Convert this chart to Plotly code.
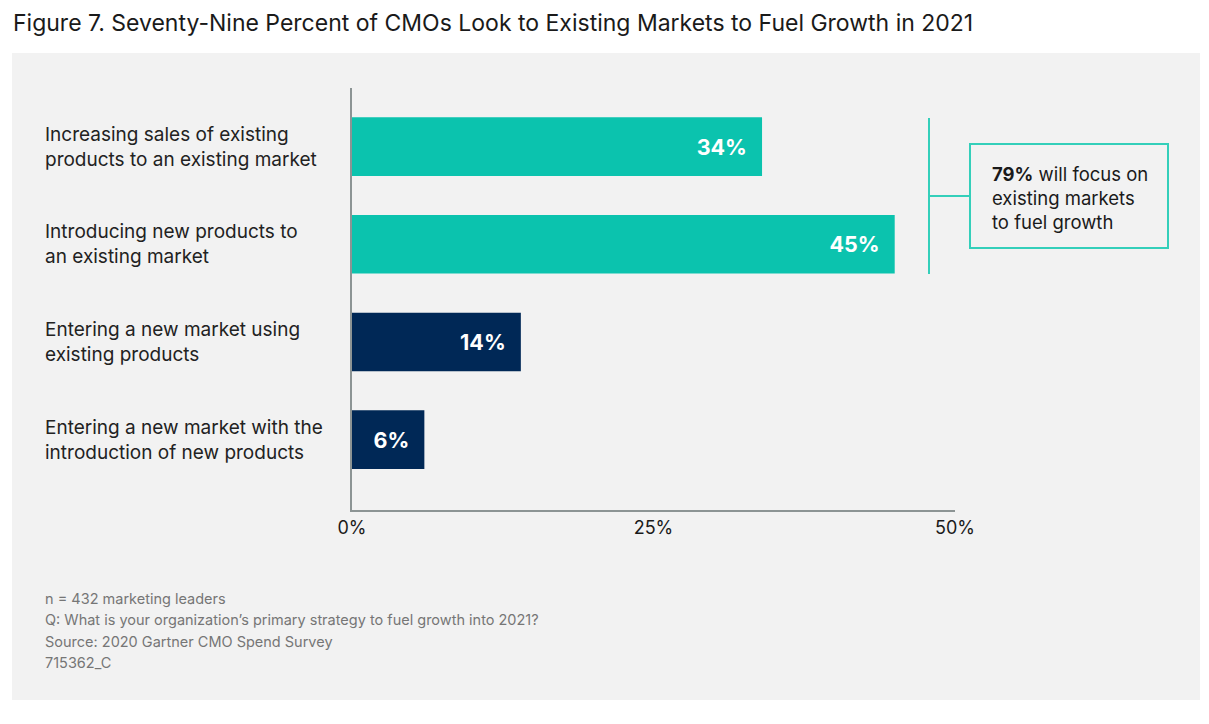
import plotly.graph_objects as go

# data
categories = [
    "Increasing sales of existing<br>products to an existing market",
    "Introducing new products to<br>an existing market",
    "Entering a new market using<br>existing products",
    "Entering a new market with the<br>introduction of new products",
]
shares = [34, 45, 14, 6]
bar_colors = ["#0BC3AE", "#0BC3AE", "#002856", "#002856"]
x_ticks = [0, 25, 50]
x_tick_labels = ["0%", "25%", "50%"]

title_text = "Figure 7. Seventy-Nine Percent of CMOs Look to Existing Markets to Fuel Growth in 2021"
callout_text = "<b>79%</b> will focus on<br>existing markets<br>to fuel growth"
notes = [
    "n = 432 marketing leaders",
    "Q: What is your organization\u2019s primary strategy to fuel growth into 2021?",
    "Source: 2020 Gartner CMO Spend Survey",
    "715362_C",
]

# page body has an 8px margin, so the figure is shrunk and shifted by it
OFF = 8
W, H = 1209 - OFF, 724 - OFF
ML, MR, MT, MB = 352 - OFF, 254, 88 - OFF, 214
FONT = "Inter, Roboto, sans-serif"
TEAL = "#34CFBA"


def px_x(px):
    return (px - OFF - ML) / (W - ML - MR)


def px_y(py):
    return 1 - (py - OFF - MT) / (H - MT - MB)


fig = go.Figure()
fig.add_trace(go.Bar(
    x=shares,
    y=categories,
    orientation="h",
    marker=dict(color=bar_colors, line=dict(width=0)),
    texttemplate="<b>%{x}%</b>\u00a0\u00a0",
    textposition="inside",
    insidetextanchor="end",
    textfont=dict(color="white", size=21.5, family=FONT),
    width=0.6,
    hoverinfo="skip",
))

shapes = [
    # grey panel
    dict(type="rect", xref="paper", yref="paper", x0=px_x(12), x1=px_x(1200),
         y0=px_y(700), y1=px_y(53), fillcolor="#F2F2F2", line=dict(width=0), layer="below"),
    # callout bracket
    dict(type="line", xref="paper", yref="paper", x0=px_x(929), x1=px_x(929),
         y0=px_y(274), y1=px_y(118), line=dict(color=TEAL, width=2)),
    dict(type="line", xref="paper", yref="paper", x0=px_x(929), x1=px_x(970),
         y0=px_y(196), y1=px_y(196), line=dict(color=TEAL, width=2)),
    dict(type="rect", xref="paper", yref="paper", x0=px_x(970), x1=px_x(1168),
         y0=px_y(248), y1=px_y(144), line=dict(color=TEAL, width=2), fillcolor="rgba(0,0,0,0)"),
]

annotations = [
    dict(text=title_text, xref="paper", yref="paper", x=px_x(11), y=px_y(23),
         xanchor="left", yanchor="middle", showarrow=False,
         font=dict(size=23, color="#1a1a1a", family=FONT)),
    dict(text=callout_text, xref="paper", yref="paper", x=px_x(990), y=px_y(198),
         xanchor="left", yanchor="middle", align="left", showarrow=False,
         font=dict(size=18.5, color="#1a1a1a", family=FONT)),
]
for cat in categories:
    annotations.append(dict(
        text=cat, xref="paper", yref="y", x=px_x(43), y=cat,
        xanchor="left", yanchor="middle", align="left", showarrow=False,
        font=dict(size=19, color="#222222", family=FONT),
    ))
for i, line in enumerate(notes):
    annotations.append(dict(
        text=line, xref="paper", yref="paper", x=px_x(43), y=px_y(599 + 21 * i),
        xanchor="left", yanchor="middle", showarrow=False,
        font=dict(size=14.5, color="#767676", family=FONT),
    ))

fig.update_layout(
    width=W, height=H,
    margin=dict(l=ML, r=MR, t=MT, b=MB),
    paper_bgcolor="white",
    plot_bgcolor="rgba(0,0,0,0)",
    showlegend=False,
    bargap=0.4,
    shapes=shapes,
    annotations=annotations,
    xaxis=dict(
        range=[0, 50], tickvals=x_ticks, ticktext=x_tick_labels,
        showgrid=False, zeroline=False, showline=True,
        linecolor="#8C9494", linewidth=2, ticks="", ticklen=0,
        tickfont=dict(size=18, color="#1a1a1a", family=FONT),
    ),
    yaxis=dict(
        range=[3.72, -0.6], showticklabels=False, showgrid=False,
        zeroline=False, showline=True, linecolor="#8C9494", linewidth=2, ticks="",
    ),
)

fig.write_html("out.html")
